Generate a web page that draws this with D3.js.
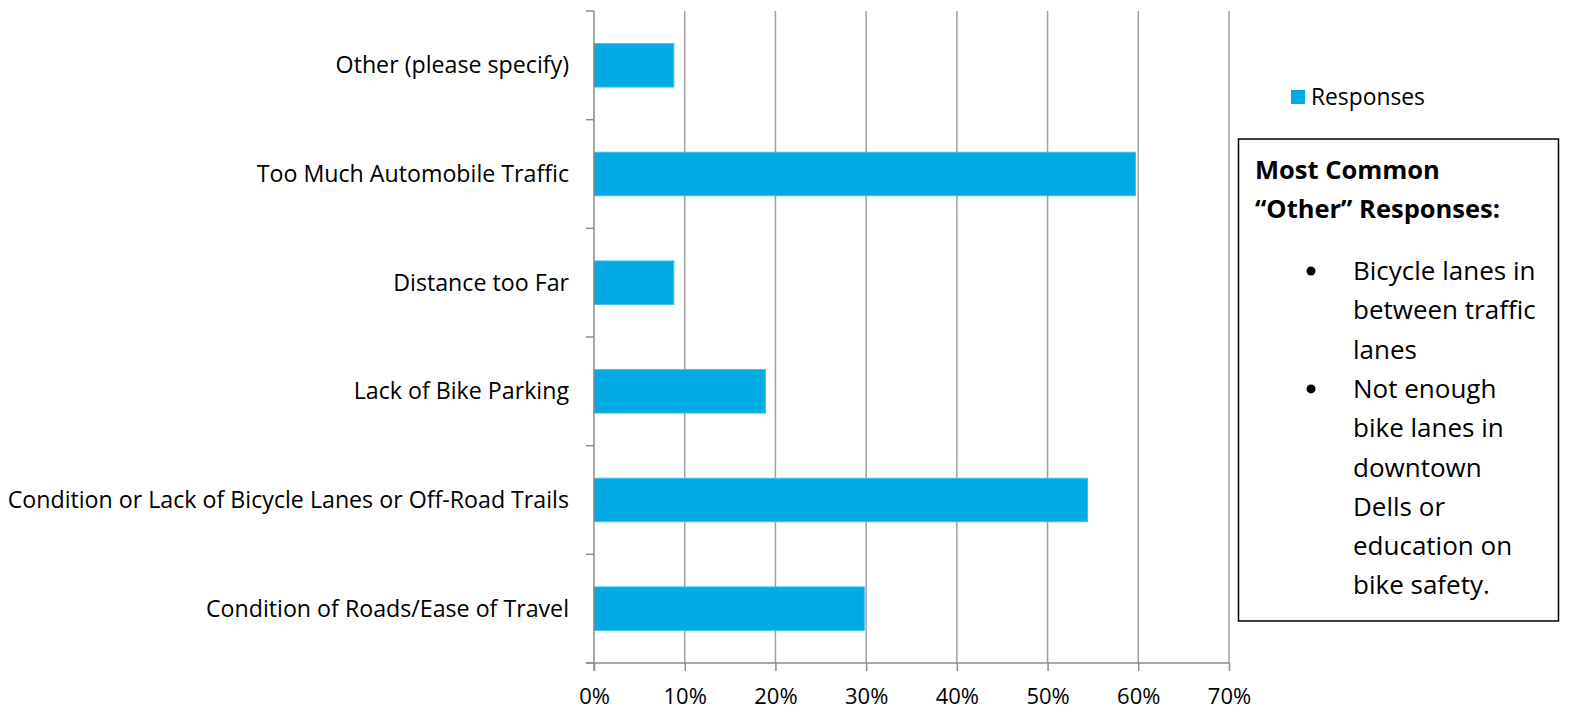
<!DOCTYPE html>
<html>
<head>
<meta charset="utf-8">
<script src="https://cdn.jsdelivr.net/npm/d3@7"></script>
<style>
	body { margin: 0; background: #fff; }
	svg text { font-family: 'Open Sans', sans-serif; fill: #000; }
</style>
</head>
<body>
<svg id="chart" width="1572" height="712"></svg>
<script>
const categories = [
	'Other (please specify)',
	'Too Much Automobile Traffic',
	'Distance too Far',
	'Lack of Bike Parking',
	'Condition or Lack of Bicycle Lanes or Off-Road Trails',
	'Condition of Roads/Ease of Travel'
];
const responses = [8.8, 59.7, 8.8, 18.9, 54.4, 29.8];
const xTicks = [0, 10, 20, 30, 40, 50, 60, 70];
const legendLabel = 'Responses';
const noteTitle = ['Most Common', '\u201COther\u201D Responses:'];
const noteBullets = [
	['Bicycle lanes in', 'between traffic', 'lanes'],
	['Not enough', 'bike lanes in', 'downtown', 'Dells or', 'education on', 'bike safety.']
];

const BAR = '#00aae5';
const GRID = '#a0a0a0';
const LEFT = 594;
const RIGHT = 1229;
const TOP = 11;
const BOTTOM = 663;

const $svg = d3.select('#chart');

const x = d3.scaleLinear().domain([0, 70]).range([LEFT, RIGHT]);
const y = d3
	.scaleBand()
	.domain(categories)
	.range([TOP, BOTTOM])
	.paddingInner(0.6)
	.paddingOuter(0.3);

// vertical gridlines
$svg
	.append('g')
	.selectAll('line')
	.data(xTicks.slice(1))
	.join('line')
	.attr('x1', d => x(d))
	.attr('x2', d => x(d))
	.attr('y1', TOP)
	.attr('y2', BOTTOM)
	.attr('stroke', GRID)
	.attr('stroke-width', 1.5);

// bars
$svg
	.append('g')
	.selectAll('rect')
	.data(categories)
	.join('rect')
	.attr('x', x(0))
	.attr('y', d => y(d))
	.attr('width', (d, i) => x(responses[i]) - x(0))
	.attr('height', y.bandwidth())
	.attr('fill', BAR)
	.attr('stroke', '#3cc0ee')
	.attr('stroke-width', 1);

// x axis
const xAxis = d3
	.axisBottom(x)
	.tickValues(xTicks)
	.tickFormat(d => `${d}%`)
	.tickSize(8)
	.tickPadding(17);
const $xAxis = $svg
	.append('g')
	.attr('transform', `translate(0,${BOTTOM})`)
	.call(xAxis);
$xAxis.select('.domain').attr('stroke', '#8c8c8c').attr('stroke-width', 1.5).attr('d', `M${LEFT - 8},0H${RIGHT}`);
$xAxis.selectAll('.tick line').attr('stroke', '#8c8c8c').attr('stroke-width', 1.5);
$xAxis
	.selectAll('.tick text')
	.attr('font-size', 22)
	.attr('font-family', "'Open Sans', sans-serif")
	.attr('fill', '#000');

// y axis: ticks sit on category boundaries
const step = y.step();
const bounds = d3.range(categories.length + 1).map(i => TOP + i * step);
const $yAxis = $svg.append('g');
$yAxis
	.append('line')
	.attr('x1', LEFT)
	.attr('x2', LEFT)
	.attr('y1', TOP)
	.attr('y2', BOTTOM + 8)
	.attr('stroke', '#8c8c8c')
	.attr('stroke-width', 1.5);
$yAxis
	.selectAll('line.tick')
	.data(bounds)
	.join('line')
	.attr('class', 'tick')
	.attr('x1', LEFT - 8)
	.attr('x2', LEFT)
	.attr('y1', d => d)
	.attr('y2', d => d)
	.attr('stroke', '#8c8c8c')
	.attr('stroke-width', 1.5);
$yAxis
	.selectAll('text')
	.data(categories)
	.join('text')
	.attr('x', LEFT - 25)
	.attr('y', d => y(d) + y.bandwidth() / 2)
	.attr('dy', '0.35em')
	.attr('text-anchor', 'end')
	.attr('font-size', 23.2)
	.text(d => d);

// legend
const $legend = $svg.append('g').attr('transform', 'translate(1291,90)');
$legend.append('rect').attr('width', 14).attr('height', 14).attr('fill', BAR);
$legend
	.append('text')
	.attr('x', 20)
	.attr('y', 15)
	.attr('font-size', 22.8)
	.text(legendLabel);

// note box
const $note = $svg.append('g');
$note
	.append('rect')
	.attr('x', 1238.5)
	.attr('y', 139)
	.attr('width', 320)
	.attr('height', 482)
	.attr('fill', 'none')
	.attr('stroke', '#000')
	.attr('stroke-width', 1.5);
$note
	.selectAll('text.title')
	.data(noteTitle)
	.join('text')
	.attr('class', 'title')
	.attr('x', 1255)
	.attr('y', (d, i) => 179 + i * 39)
	.attr('font-size', 25.5)
	.attr('font-weight', 'bold')
	.text(d => d);

const LINE = 39.3;
let row = 0;
noteBullets.forEach(lines => {
	const top = 280 + row * LINE;
	$note
		.append('circle')
		.attr('cx', 1311)
		.attr('cy', top - 9)
		.attr('r', 4.5);
	lines.forEach((t, j) => {
		$note
			.append('text')
			.attr('x', 1353)
			.attr('y', top + j * LINE)
			.attr('font-size', 26)
			.text(t);
	});
	row += lines.length;
});
</script>
</body>
</html>
